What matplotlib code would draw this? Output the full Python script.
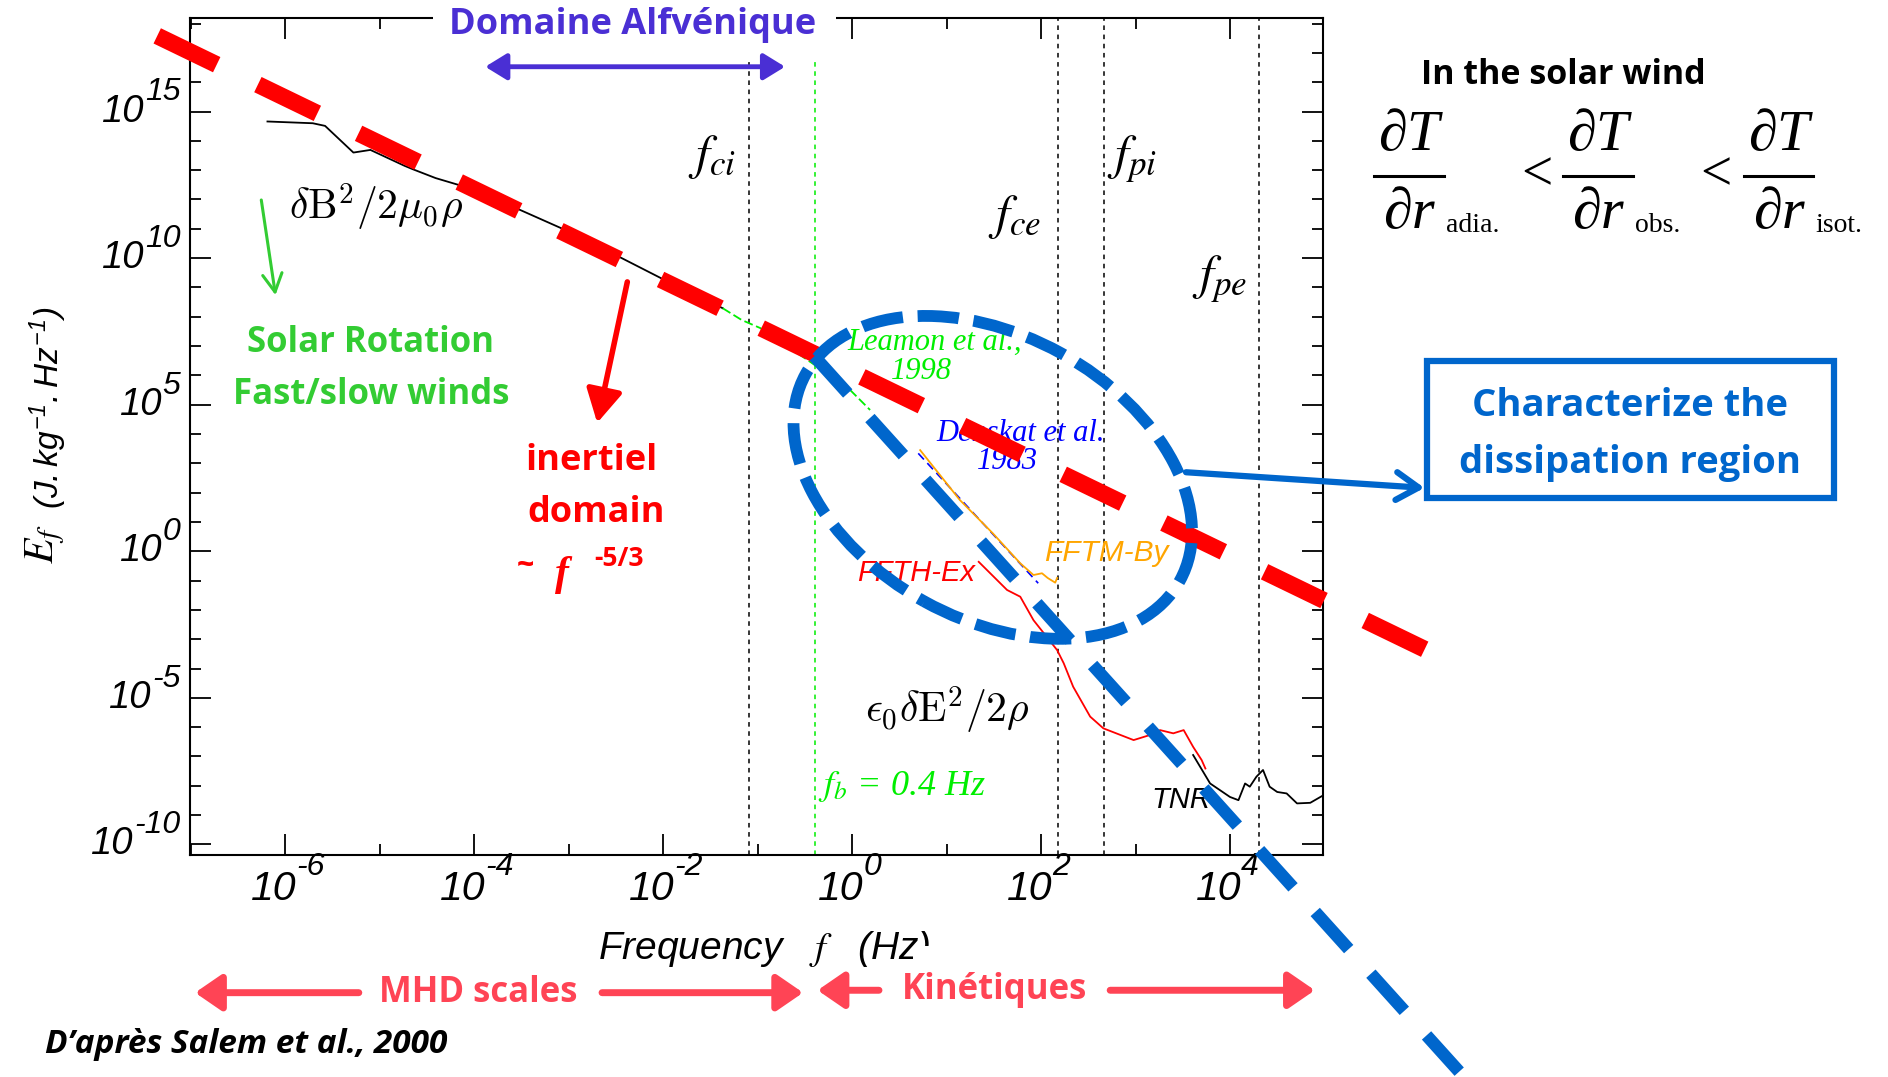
import numpy as np
import matplotlib
matplotlib.use("Agg")
import matplotlib.pyplot as plt
from matplotlib import font_manager as fm
from matplotlib.patches import Ellipse, Rectangle, FancyArrowPatch, ArrowStyle
from matplotlib.lines import Line2D
from matplotlib.ticker import FixedLocator, NullFormatter

# spectrum pieces as log10(f [Hz]) / log10(E_f)
black_logf = [-6.19, -5.71, -5.58, -5.28, -5.10, -4.74, -4.65, -4.41, -4.17, -3.52, -3.08, -2.47, -2.02, -1.37]
black_logE = [14.66, 14.60, 14.51, 13.60, 13.69, 13.15, 13.03, 12.73, 12.50, 11.65, 11.02, 10.05, 9.31, 8.29]
leamon_logf = [-1.37, -1.17, -0.97, -0.055, 0.19]
leamon_logE = [8.29, 7.89, 7.61, 5.61, 4.82]
fftm_logf = [0.72, 1.14, 1.49, 1.78, 1.92, 2.01, 2.07, 2.15, 2.17]
fftm_logE = [3.45, 1.75, 0.61, -0.41, -0.81, -0.75, -0.91, -1.07, -0.91]
denskat_logf = [0.70, 1.97]
denskat_logE = [3.34, -1.09]
ffth_logf = [1.34, 1.64, 1.78, 1.92, 2.06, 2.17, 2.24, 2.34, 2.52, 2.66, 2.98, 3.15, 3.26, 3.40, 3.51, 3.61, 3.70, 3.74]
ffth_logE = [-0.36, -1.32, -1.55, -2.35, -2.92, -3.37, -3.82, -4.62, -5.64, -6.04, -6.44, -6.27, -6.10, -6.21, -6.10, -6.67, -7.12, -7.41]
tnr_logf = [3.61, 3.79, 4.00, 4.09, 4.16, 4.21, 4.28, 4.35, 4.42, 4.50, 4.60, 4.71, 4.85, 4.99]
tnr_logE = [-6.95, -7.92, -8.38, -8.49, -7.92, -8.03, -7.69, -7.46, -8.03, -8.21, -8.26, -8.60, -8.58, -8.32]

# characteristic frequencies (Hz)
f_ci, f_b, f_ce, f_pi, f_pe = 10 ** -1.09, 0.4, 10 ** 2.18, 10 ** 2.67, 10 ** 4.31

# the two sketched slopes (end points, log10)
red_fit_logf = [-7.357, 6.083]
red_fit_logE = [17.58, -3.375]
blue_fit_logf = [-0.401, 6.427]
blue_fit_logE = [6.65, -17.75]

xtick_exps = [-6, -4, -2, 0, 2, 4]
ytick_exps = [-10, -5, 0, 5, 10, 15]


def have(name):
    try:
        fm.findfont(fm.FontProperties(family=name), fallback_to_default=False)
        return True
    except ValueError:
        return False


# narrow sans for the axis lettering, plain Liberation Sans (a bit smaller) otherwise
if have('Liberation Sans Narrow'):
    NARROW, NS = 'Liberation Sans Narrow', 1.15
else:
    NARROW, NS = 'Liberation Sans', 1.0
SERIF = 'Liberation Serif'
CAL = 'Open Sans'

plt.rcParams['mathtext.fontset'] = 'custom'
plt.rcParams['mathtext.rm'] = NARROW + ':italic'
plt.rcParams['mathtext.it'] = NARROW + ':italic'
plt.rcParams['mathtext.bf'] = NARROW + ':italic:bold'

PURPLE = '#4A2FD4'
GREEN_T = '#33CC33'
RED = '#FF0000'
PINK = '#FF4455'
BLUE = '#0066CC'
LGREEN = '#00EE00'

fig = plt.figure(figsize=(18.88, 10.77), dpi=100)
ax = fig.add_axes([190 / 1888, 1 - 855 / 1077, (1323 - 190) / 1888, (855 - 18) / 1077])


def fpos(xd, yd):
    # position in the 1568x894 view of the reference -> figure fraction
    return xd / 1568.0, 1.0 - yd / 894.0


def ftext(xd, yd, s, **kw):
    kw.setdefault('ha', 'center')
    kw.setdefault('va', 'center')
    return fig.text(*fpos(xd, yd), s, **kw)


def atext(xd, yd, s, **kw):
    kw.setdefault('ha', 'center')
    kw.setdefault('va', 'center')
    kw.setdefault('zorder', 4)
    return ax.text(*fpos(xd, yd), s, transform=fig.transFigure, **kw)


def farrow(p0, p1, color, lw, style, zorder=5):
    a = FancyArrowPatch(fpos(*p0), fpos(*p1), transform=fig.transFigure, arrowstyle=style,
                        color=color, lw=lw, mutation_scale=1, shrinkA=0, shrinkB=0, zorder=zorder)
    fig.add_artist(a)


ax.set_xscale('log')
ax.set_yscale('log')
ax.set_xlim(10 ** -7.01, 10 ** 4.985)
ax.set_ylim(10 ** -10.36, 10 ** 18.19)
ax.xaxis.set_major_locator(FixedLocator(10.0 ** np.array(xtick_exps)))
ax.xaxis.set_minor_locator(FixedLocator(10.0 ** np.arange(-7, 5)))
ax.yaxis.set_major_locator(FixedLocator(10.0 ** np.array(ytick_exps)))
ax.yaxis.set_minor_locator(FixedLocator(10.0 ** np.arange(-10, 19)))
ax.xaxis.set_major_formatter(NullFormatter())
ax.xaxis.set_minor_formatter(NullFormatter())
ax.yaxis.set_major_formatter(NullFormatter())
ax.yaxis.set_minor_formatter(NullFormatter())
ax.tick_params(which='major', direction='in', length=15, width=1.3, top=True, right=True)
ax.tick_params(which='minor', direction='in', length=8, width=1.3, top=True, right=True)
for s in ax.spines.values():
    s.set_linewidth(1.5)

# tick labels: "10" with a large raised exponent
for e in ytick_exps:
    ex = ax.annotate(f'{e}', xy=(0, 10.0 ** e), xycoords=('axes fraction', 'data'), xytext=(-7, 3),
                     textcoords='offset points', ha='right', va='bottom', fontsize=23 * NS,
                     family=NARROW, style='italic', annotation_clip=False)
    ax.annotate('10', xy=(0, 0), xycoords=ex, xytext=(-1, -3), textcoords='offset points',
                ha='right', va='center', fontsize=27.5 * NS, family=NARROW, style='italic',
                annotation_clip=False)
for e in xtick_exps:
    ten = ax.annotate('10', xy=(10.0 ** e, 0), xycoords=('data', 'axes fraction'), xytext=(8, -11),
                      textcoords='offset points', ha='right', va='top', fontsize=29.5 * NS,
                      family=NARROW, style='italic', annotation_clip=False)
    ax.annotate(f'{e}', xy=(1, 1), xycoords=ten, xytext=(0, 13), textcoords='offset points',
                ha='left', va='top', fontsize=23 * NS, family=NARROW, style='italic',
                annotation_clip=False)

# characteristic frequencies
for fc in [f_ci, f_ce, f_pi, f_pe]:
    ax.axvline(fc, color='k', lw=1.1, ls=(0, (3, 3)), zorder=1)
ax.axvline(f_b, color=LGREEN, lw=1.1, ls=(0, (3, 3)), zorder=1)

# spectra
ax.plot(10.0 ** np.array(black_logf), 10.0 ** np.array(black_logE), color='k', lw=1.3, zorder=2)
ax.plot(10.0 ** np.array(leamon_logf), 10.0 ** np.array(leamon_logE), color=LGREEN, lw=1.3,
        ls=(0, (5, 2)), zorder=2)
ax.plot(10.0 ** np.array(denskat_logf), 10.0 ** np.array(denskat_logE), color='#0000FF', lw=1.2,
        ls=(0, (5, 3)), zorder=2)
ax.plot(10.0 ** np.array(fftm_logf), 10.0 ** np.array(fftm_logE), color='#FFA500', lw=1.3, zorder=3)
ax.plot(10.0 ** np.array(ffth_logf), 10.0 ** np.array(ffth_logE), color=RED, lw=1.3, zorder=3)
ax.plot(10.0 ** np.array(tnr_logf), 10.0 ** np.array(tnr_logE), color='k', lw=1.3, zorder=3)

# labels inside the plot
atext(591, 130, r'$f_{ci}$', fontsize=36, math_fontfamily='stix')
atext(843, 180, r'$f_{ce}$', fontsize=36, math_fontfamily='stix')
atext(940, 132, r'$f_{pi}$', fontsize=36, math_fontfamily='stix')
atext(1013, 232, r'$f_{pe}$', fontsize=36, math_fontfamily='stix')
atext(312, 172, r'$\delta\mathrm{B}^2/2\mu_0\rho$', fontsize=30, math_fontfamily='cm')
atext(787, 590, r'$\epsilon_0\delta\mathrm{E}^2/2\rho$', fontsize=30, math_fontfamily='cm')
atext(776, 284, 'Leamon et al.,', color=LGREEN, fontsize=22, family=SERIF, style='italic')
atext(765, 308, '1998', color=LGREEN, fontsize=22, family=SERIF, style='italic')
atext(848, 360, 'Denskat et al.', color='#0000FF', fontsize=22, family=SERIF, style='italic')
atext(837, 383, '1983', color='#0000FF', fontsize=22, family=SERIF, style='italic')
atext(919, 459, 'FFTM-By', color='#FFA500', fontsize=21.5 * NS, family=NARROW, style='italic')
atext(761, 476, 'FFTH-Ex', color=RED, fontsize=21 * NS, family=NARROW, style='italic')
atext(981, 664, 'TNR', color='k', fontsize=21 * NS, family=NARROW, style='italic')
atext(749, 653, r'$f_b$ = 0.4 Hz', color=LGREEN, fontsize=26, family=SERIF, style='italic',
      math_fontfamily='stix')

# sketched slopes and the dissipation ellipse
ax.plot(10.0 ** np.array(red_fit_logf), 10.0 ** np.array(red_fit_logE), color=RED, lw=12.2,
        ls=(0, (3.9, 2.7)), dash_capstyle='butt', clip_on=False, zorder=6)
ax.plot(10.0 ** np.array(blue_fit_logf), 10.0 ** np.array(blue_fit_logE), color=BLUE, lw=9,
        ls=(0, (4.0, 2.65)), dash_capstyle='butt', clip_on=False, zorder=7)
k = 1888 / 1568 / 100.0
ax.add_patch(Ellipse((824.5 * k, (894 - 396) * k), 2 * 177.5 * k, 2 * 117.7 * k, angle=-28.9,
                     transform=fig.dpi_scale_trans, fill=False, edgecolor=BLUE, lw=8.5,
                     ls=(0, (3.5, 1.25)), clip_on=False, zorder=8))

# axis titles
ftext(38, 452, r'$E_f$', rotation=90, fontsize=30, math_fontfamily='stix')
ftext(40, 338, r'$(J.kg^{-1}.Hz^{-1})$', rotation=90, fontsize=24, math_fontfamily='custom')
ftext(497, 788, r'Frequency   $f$   (Hz)', ha='left', fontsize=28 * NS, family=NARROW,
      style='italic', math_fontfamily='stix', zorder=1.5)
fig.add_artist(Rectangle(fpos(758, 812), 32 / 1568, 27 / 894, transform=fig.transFigure,
                         facecolor='white', edgecolor='none', zorder=2))

# top banner over the frame
fig.add_artist(Rectangle(fpos(360, 50), 334 / 1568, 50 / 894, transform=fig.transFigure,
                         facecolor='white', edgecolor='none', zorder=2))
ftext(525, 21, 'Domaine Alfvénique', color=PURPLE, fontsize=26, family=CAL, weight='bold')
farrow((403, 55.4), (652, 55.4), PURPLE, 3.5, ArrowStyle('<|-|>', head_length=13, head_width=8))

# side annotations
farrow((217, 166), (228.8, 245), GREEN_T, 2.2, ArrowStyle('->', head_length=13, head_width=7))
ftext(308, 285, 'Solar Rotation', color=GREEN_T, fontsize=25, family=CAL, weight='bold')
ftext(308, 328, 'Fast/slow winds', color=GREEN_T, fontsize=25, family=CAL, weight='bold')
farrow((521, 234), (496, 351), RED, 4, ArrowStyle('-|>', head_length=20, head_width=11))
ftext(491, 383, 'inertiel', color=RED, fontsize=26, family=CAL, weight='bold')
ftext(495, 426, 'domain', color=RED, fontsize=26, family=CAL, weight='bold')
ftext(436, 470, '~', color=RED, fontsize=22, family=CAL, weight='bold')
ftext(467, 477, 'f', color=RED, fontsize=30, family=SERIF, style='italic', weight='bold')
ftext(514, 464, '-5/3', color=RED, fontsize=19, family=CAL, weight='bold')

# scale ranges below the axis
big = ArrowStyle('-|>', head_length=16, head_width=11)
ftext(397, 824, 'MHD scales', color=PINK, fontsize=25, family=CAL, weight='bold')
farrow((298, 824), (162, 824), PINK, 5, big)
farrow((500, 824), (667, 824), PINK, 5, big)
ftext(826, 822, 'Kinétiques', color=PINK, fontsize=25, family=CAL, weight='bold')
farrow((730, 822), (679, 822), PINK, 5, big)
farrow((922, 822), (1092, 822), PINK, 5, big)
ftext(37, 867, 'D\u2019après Salem et al., 2000', ha='left', fontsize=24, family=CAL,
      weight='bold', style='italic')

# right hand side
ftext(1298, 62, 'In the solar wind', fontsize=24.5, family=CAL, weight='bold')
frac_x = [1170, 1327, 1477]
subs = ['adia.', 'obs.', 'isot.']
for xc, sub in zip(frac_x, subs):
    ftext(xc, 113, '\u2202T', fontsize=42, family=SERIF, style='italic')
    ftext(xc, 178, '\u2202r', fontsize=42, family=SERIF, style='italic')
    x0, y0 = fpos(xc - 29, 146)
    x1, _ = fpos(xc + 29, 146)
    fig.add_artist(Line2D([x0, x1], [y0, y0], transform=fig.transFigure, color='k', lw=2.2))
    ftext(xc + 31, 187, sub, ha='left', fontsize=20, family=SERIF)
for xc in [1276, 1425]:
    ftext(xc, 146, '<', fontsize=40, family=SERIF)

fig.add_artist(Rectangle(fpos(1185, 413), 338 / 1568, 113 / 894, transform=fig.transFigure,
                         fill=False, edgecolor=BLUE, lw=4.5, zorder=5))
ftext(1354, 337, 'Characterize the', color=BLUE, fontsize=27.5, family=CAL, weight='bold')
ftext(1354, 384, 'dissipation region', color=BLUE, fontsize=27.5, family=CAL, weight='bold')
farrow((985, 392), (1183, 405), BLUE, 4.5, ArrowStyle('->', head_length=16, head_width=10))

fig.savefig('out.png', dpi=100)
